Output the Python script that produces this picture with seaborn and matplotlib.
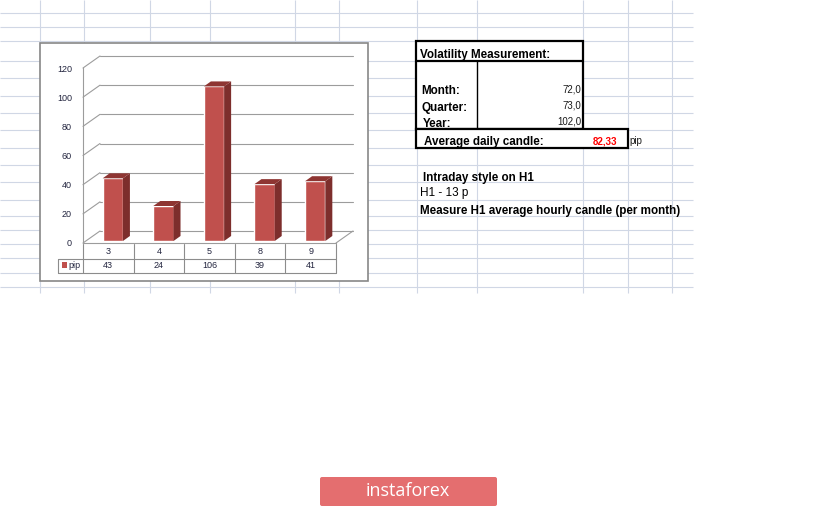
import pandas as pd
import seaborn as sns
import matplotlib.pyplot as plt
from matplotlib.patches import Rectangle, Polygon, FancyBboxPatch

# chart data
days = ['3', '4', '5', '8', '9']
pips = [43, 24, 106, 39, 41]
yticks = [0, 20, 40, 60, 80, 100, 120]

# side table
periods = ['Month:', 'Quarter:', 'Year:']
period_vals = [72.0, 73.0, 102.0]
avg_candle = 82.33
notes = ['Intraday style on H1', 'H1 - 13 p', 'Measure H1 average hourly candle (per month)']

# spreadsheet grid (pixels)
grid_rows = [13, 27, 41, 61, 78, 96, 113, 130, 148, 165, 182, 200, 216, 230, 244, 258, 273, 287]
grid_cols = [40, 84, 150, 210, 295, 339, 417, 477, 583, 628, 672]

sns.set_theme(style='white')
plt.rcParams['font.family'] = ['Liberation Sans', 'DejaVu Sans']

fig = plt.figure(figsize=(8.16, 5.08), dpi=100)
bg = fig.add_axes([0, 0, 1, 1])
bg.set_xlim(0, 816)
bg.set_ylim(508, 0)
bg.axis('off')

bg.hlines(grid_rows, 0, 693, color='#D0D7E5', lw=0.8, zorder=1)
bg.vlines(grid_cols, 0, 293, color='#D0D7E5', lw=0.8, zorder=1)

# chart area
bg.add_patch(Rectangle((40, 43), 328, 238, fc='white', ec='#878787', lw=1.2, zorder=2))

# volatility boxes
bg.add_patch(Rectangle((416, 41), 167, 88, fc='white', ec='black', lw=1.6, zorder=2))
bg.add_patch(Rectangle((416, 129), 212, 19, fc='white', ec='black', lw=1.6, zorder=2))
bg.hlines(61, 416, 583, color='black', lw=1.6, zorder=3)
bg.vlines(477, 61, 129, color='black', lw=1.0, zorder=3)

txt = dict(fontsize=8.4, fontweight='bold', color='black', va='center', zorder=4)
bg.text(420, 55, 'Volatility Measurement:', **txt)
for i, (lab, v) in enumerate(zip(periods, period_vals)):
    bg.text(421 + i, 91 + 16.5 * i, lab, **txt)
    bg.text(581, 89 + 16.5 * i, f'{v:.1f}'.replace('.', ','), fontsize=7, color='#1a1a1a',
            ha='right', va='center', zorder=4)
bg.text(424, 142, 'Average daily candle:', **txt)
bg.text(617, 141, f'{avg_candle:.2f}'.replace('.', ','), fontsize=7, color='red',
        fontweight='bold', ha='right', va='center', zorder=4)
bg.text(629, 141, 'pip', fontsize=7, color='#1a1a1a', va='center', zorder=4)
bg.text(423, 178, notes[0], **txt)
bg.text(420, 193, notes[1], fontsize=8.5, color='black', va='center', zorder=4)
bg.text(420, 211, notes[2], **txt)

# logo
bg.add_patch(FancyBboxPatch((320, 477), 177, 29, boxstyle='round,pad=0,rounding_size=2',
                            fc='#E46E6F', ec='none', zorder=2))
bg.text(408, 491, 'instaforex', family='Open Sans', fontsize=13, color='white',
        ha='center', va='center', zorder=3)

# chart axes = front plane of the 3D box
ax = fig.add_axes([83 / 816, (508 - 243) / 508, 253 / 816, 175 / 508])
ax.patch.set_alpha(0)
df = pd.DataFrame({'day': days, 'pip': pips})
sns.barplot(data=df, x='day', y='pip', color='#C0504D', width=0.4, saturation=1,
            ax=ax, zorder=4)
ax.set_xlim(-0.5, 4.5)
ax.set_ylim(0, 120)

PX = 5 / 253
PY = 120 / 175


def xp(p):
    return -0.5 + (p - 83) * PX


def yp(p):
    return (243 - p) * PY


# back wall, left wall and floor
bx, by = 17 * PX, 12 * PY
wall = '#9C9C9C'
for v in yticks:
    ax.plot([-0.5 + bx, 4.5 + bx], [v + by, v + by], color=wall, lw=0.8, clip_on=False, zorder=1)
    ax.plot([-0.5, -0.5 + bx], [v, v + by], color=wall, lw=0.8, clip_on=False, zorder=1)
ax.plot([4.5, 4.5 + bx], [0, by], color=wall, lw=0.8, clip_on=False, zorder=1)

# bars in 3D
dx, dy = 7 * PX, 5 * PY
for p in ax.patches:
    p.set_x(p.get_x() + 4.5 * PX)
    p.set_y(2 * PY)
    x0, w, h = p.get_x(), p.get_width(), p.get_height()
    b = p.get_y()
    ax.add_patch(Polygon([(x0 + w, b), (x0 + w + dx, b + dy), (x0 + w + dx, b + h + dy), (x0 + w, b + h)],
                         closed=True, fc='#7D2E2C', ec='none', zorder=4, clip_on=False))
    ax.add_patch(Polygon([(x0, b + h), (x0 + w, b + h), (x0 + w + dx, b + h + dy), (x0 + dx, b + h + dy)],
                         closed=True, fc='#8E3532', ec='none', zorder=4, clip_on=False))

ax.set_yticks(yticks)
ax.tick_params(axis='y', length=0, pad=8, labelsize=6.5, labelcolor='#23253F')
ax.tick_params(axis='x', length=0, labelbottom=False)
ax.set_xlabel('')
ax.set_ylabel('')
for s in ['top', 'right']:
    ax.spines[s].set_visible(False)
for s in ['left', 'bottom']:
    ax.spines[s].set_color(wall)
    ax.spines[s].set_linewidth(0.8)

# data table under the chart
line = dict(color='#8C8C8C', lw=0.8, clip_on=False)
edges = [i - 0.5 for i in range(len(days) + 1)]
for e in edges:
    ax.plot([e, e], [yp(244), yp(273)], **line)
ax.plot([xp(58), xp(58)], [yp(259), yp(273)], **line)
ax.plot([xp(58), 4.5], [yp(259), yp(259)], **line)
ax.plot([xp(58), 4.5], [yp(273), yp(273)], **line)
for i, (d, v) in enumerate(zip(days, pips)):
    ax.text(i, yp(252), d, fontsize=6.5, color='#23253F', ha='center', va='center', clip_on=False)
    ax.text(i, yp(266), str(v), fontsize=6.5, color='#23253F', ha='center', va='center', clip_on=False)
ax.add_patch(Rectangle((xp(62), yp(268)), 5 * PX, 6 * PY, fc='#C0504D', ec='none', clip_on=False))
ax.text(xp(68), yp(266), 'pip', fontsize=6.5, color='#23253F', va='center', clip_on=False)

fig.savefig('out.png', dpi=100)
